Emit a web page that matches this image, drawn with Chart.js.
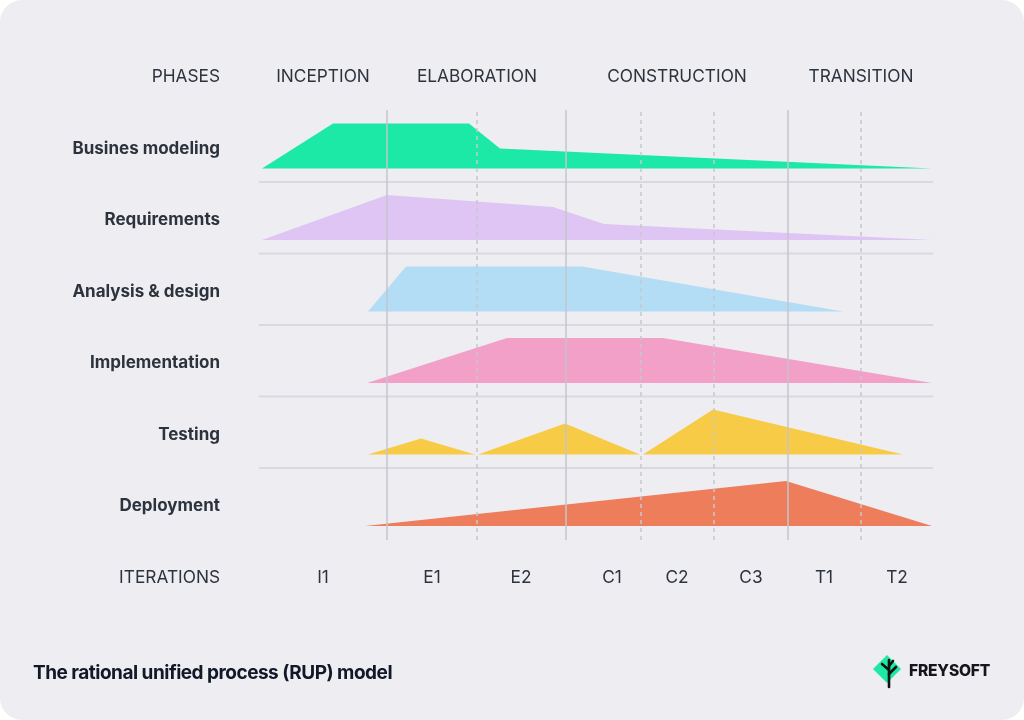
<!DOCTYPE html>
<html>
<head>
<meta charset="utf-8">
<script src="https://cdn.jsdelivr.net/npm/chart.js@4/dist/chart.umd.min.js"></script>
<style>
  html, body { margin: 0; padding: 0; background: #fff; }
  #card {
    position: absolute; left: 0; top: 0; width: 1024px; height: 720px;
    background: #eeedf2; border-radius: 22px; overflow: hidden;
  }
  #chart { position: absolute; left: 0; top: 0; }
  #title {
    position: absolute; left: 33px; top: 661px;
    font: 700 19px Inter, sans-serif; color: #111827; letter-spacing: -0.5px;
  }
  #logo { position: absolute; left: 872px; top: 654px; }
  #brand {
    position: absolute; left: 909px; top: 661px;
    font: 800 15.6px Inter, sans-serif; color: #14161c; letter-spacing: -0.2px;
  }
</style>
</head>
<body>
<div id="card">
  <canvas id="chart" width="1024" height="720"></canvas>
  <div id="title">The rational unified process (RUP) model</div>
  <svg id="logo" width="32" height="36" viewBox="0 0 32 36">
    <polygon points="15,1 29,15 15,29 1,15" fill="#1de9a4"/>
    <g stroke="#111" stroke-width="2.6" stroke-linecap="round" fill="none">
      <line x1="17" y1="6" x2="17" y2="33"/>
      <line x1="17" y1="16" x2="10" y2="10"/>
      <line x1="17" y1="20" x2="24" y2="13"/>
      <line x1="17" y1="12" x2="21" y2="7"/>
    </g>
  </svg>
  <div id="brand">FREYSOFT</div>
</div>
<script>
// x in px-like units from the left edge of I1, heights in px-like units
const rows = ["Busines modeling", "Requirements", "Analysis & design", "Implementation", "Testing", "Deployment"];
const rowColors = ["#1ce9a5", "#dfc5f4", "#b3dcf5", "#f2a0c8", "#f8cb47", "#ee7d5c"];

const businessModeling = [[0, 0], [71, 45], [207, 45], [238, 20], [670, 0]];
const requirements = [[0, 0], [125, 45], [291, 33], [342, 16], [670, 0]];
const analysisDesign = [[106, 0], [144, 45], [320, 45], [581, 0]];
const implementation = [[105, 0], [245, 45], [401, 45], [670, 0]];
const testing = [[106, 0], [159, 16], [213, 0], [216, 0], [303, 31], [378, 0], [381, 0], [451, 45], [641, 0]];
const deployment = [[103, 0], [524, 45], [670, 0]];
const rowData = [businessModeling, requirements, analysisDesign, implementation, testing, deployment];

const phases = ["INCEPTION", "ELABORATION", "CONSTRUCTION", "TRANSITION"];
const phaseTicks = [61, 215, 415, 599];
const iterations = ["I1", "E1", "E2", "C1", "C2", "C3", "T1", "T2"];
const iterationTicks = [61, 170, 259, 350, 415, 489, 562, 635];

const phaseBounds = [125, 304, 526];          // solid lines
const iterationBounds = [215, 379, 452, 599]; // dashed lines

const rowPitch = 71.5;
const yMin = -14, yMax = 416;
const baseOf = i => (rows.length - 1 - i) * rowPitch;

const datasets = [];

phaseBounds.forEach(b => datasets.push({
  data: [{ x: b, y: yMin }, { x: b, y: yMax }],
  borderColor: "#c3c6cb", borderWidth: 1.5, fill: false, order: 0
}));
iterationBounds.forEach(b => datasets.push({
  data: [{ x: b, y: yMin }, { x: b, y: yMax }],
  borderColor: "#c6c8cc", borderWidth: 1.5, borderDash: [4, 4], fill: false, order: 0
}));
// separators between rows
for (let i = 0; i < rows.length - 1; i++) {
  const s = baseOf(i) - 13.5;
  datasets.push({
    data: [{ x: -3, y: s }, { x: 671, y: s }],
    borderColor: "#d7dadf", borderWidth: 2, fill: false, order: 1
  });
}
rowData.forEach((pts, i) => {
  const base = baseOf(i);
  datasets.push({
    label: rows[i],
    data: pts.map(p => ({ x: p[0], y: base + p[1] })),
    backgroundColor: rowColors[i],
    borderWidth: 0,
    fill: { value: base },
    order: 2
  });
});

const labelsPlugin = {
  id: "rupLabels",
  afterDraw(chart) {
    const { ctx, scales: { x, y } } = chart;
    ctx.save();
    ctx.fillStyle = "#2c333d";
    ctx.textBaseline = "middle";

    ctx.font = "700 17px Inter, sans-serif";
    ctx.textAlign = "right";
    rows.forEach((r, i) => ctx.fillText(r, 220, y.getPixelForValue(baseOf(i) + 21.5) + 1.5));

    ctx.font = "400 17.3px Inter, sans-serif";
    const topY = 76.5, bottomY = 577.5;
    ctx.fillText("PHASES", 220, topY);
    ctx.fillText("ITERATIONS", 220, bottomY);
    ctx.textAlign = "center";
    phases.forEach((p, i) => ctx.fillText(p, x.getPixelForValue(phaseTicks[i]), topY));
    iterations.forEach((t, i) => ctx.fillText(t, x.getPixelForValue(iterationTicks[i]), bottomY));
    ctx.restore();
  }
};

new Chart(document.getElementById("chart"), {
  type: "line",
  data: { datasets },
  options: {
    responsive: false,
    animation: false,
    devicePixelRatio: 1,
    layout: { padding: { left: 259, right: 91, top: 110, bottom: 180 } },
    elements: { point: { radius: 0 }, line: { tension: 0 } },
    scales: {
      x: { type: "linear", min: -3, max: 671, display: false },
      y: { type: "linear", min: yMin, max: yMax, display: false }
    },
    plugins: { legend: { display: false }, tooltip: { enabled: false } }
  },
  plugins: [labelsPlugin]
});
</script>
</body>
</html>
